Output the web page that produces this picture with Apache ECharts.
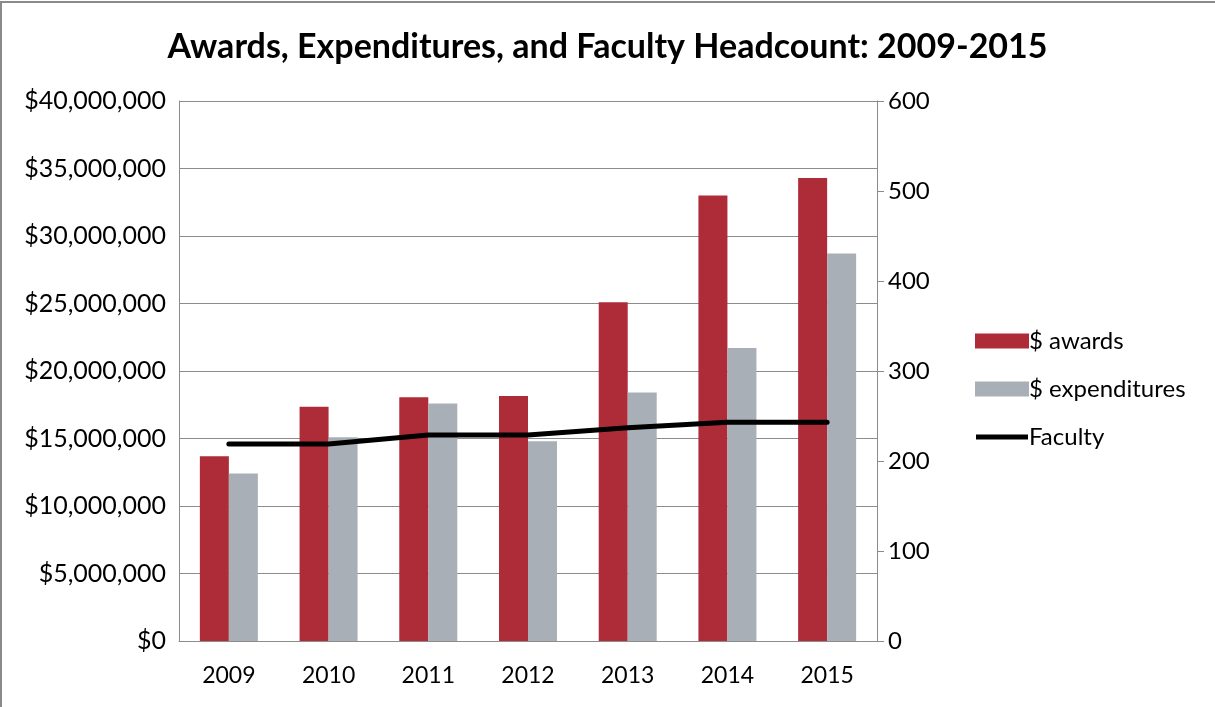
<!DOCTYPE html>
<html>
<head>
<meta charset="utf-8">
<script src="https://cdn.jsdelivr.net/npm/echarts@6/dist/echarts.min.js"></script>
<style>
  html, body { margin: 0; padding: 0; background: #fff; }
  #chart {
    position: absolute;
    left: 0; top: 0;
    width: 1215px; height: 707px;
  }
  #frame {
    position: absolute;
    left: 0; top: 1px;
    width: 1215px; height: 706px;
    box-sizing: border-box;
    border-top: 2px solid #8a8a8a;
    border-left: 2px solid #8a8a8a;
    pointer-events: none;
  }
</style>
</head>
<body>
<div id="chart"></div>
<div id="frame"></div>
<script>
  // values
  let years = ['2009', '2010', '2011', '2012', '2013', '2014', '2015'];
  let awards = [13680000, 17360000, 18050000, 18150000, 25100000, 33000000, 34300000];
  let expenditures = [12400000, 15090000, 17600000, 14800000, 18400000, 21700000, 28700000];
  let faculty = [219, 219, 229, 229, 237, 243, 243];

  let chart = echarts.init(document.getElementById('chart'));
  let font = 'Lato, "Open Sans", sans-serif';

  // thin bar centred in a 15px box, so the legend icon looks like a line
  let lineIcon = 'path://M0,0 L0.01,0 M0,5 L52,5 L52,10 L0,10 Z M0,15 L0.01,15';

  let option = {
    animation: false,
    title: {
      text: 'Awards, Expenditures, and Faculty Headcount: 2009-2015',
      left: 'center',
      top: 25,
      textStyle: {
        color: '#000',
        fontFamily: font,
        fontSize: 34,
        fontWeight: 'bold'
      }
    },
    legend: {
      orient: 'vertical',
      left: 970,
      top: 324,
      itemWidth: 54,
      itemHeight: 15,
      itemGap: 24,
      textStyle: { color: '#000', fontFamily: font, fontSize: 24, padding: [0, 0, 0, -5] },
      data: [
        { name: '$ awards', icon: 'rect' },
        { name: '$ expenditures', icon: 'rect' },
        { name: 'Faculty', icon: lineIcon }
      ]
    },
    grid: {
      left: 179,
      right: 338,
      top: 101,
      bottom: 66
    },
    xAxis: {
      type: 'category',
      data: years,
      axisTick: { show: false },
      axisLine: { lineStyle: { color: '#8c8c8c', width: 1 } },
      axisLabel: { color: '#000', fontFamily: font, fontSize: 23, margin: 23 }
    },
    yAxis: [{
      type: 'value',
      min: 0,
      max: 40000000,
      interval: 5000000,
      axisLine: { show: true, lineStyle: { color: '#8c8c8c', width: 1 } },
      axisTick: { show: false },
      splitLine: { lineStyle: { color: '#8c8c8c', width: 1 } },
      axisLabel: {
        color: '#000', fontFamily: font, fontSize: 25, margin: 13,
        formatter: v => '$' + v.toLocaleString('en-US')
      }
    }, {
      type: 'value',
      min: 0,
      max: 600,
      interval: 100,
      position: 'right',
      axisLine: { show: true, lineStyle: { color: '#8c8c8c', width: 1 } },
      axisTick: { show: true, length: 7, lineStyle: { color: '#8c8c8c' } },
      splitLine: { show: false },
      axisLabel: { color: '#000', fontFamily: font, fontSize: 24, margin: 11 }
    }],
    series: [{
      name: '$ awards',
      type: 'bar',
      data: awards,
      barWidth: 29,
      barGap: '0%',
      itemStyle: { color: '#ae2b38' }
    }, {
      name: '$ expenditures',
      type: 'bar',
      data: expenditures,
      barWidth: 29,
      itemStyle: { color: '#a9afb7' }
    }, {
      name: 'Faculty',
      type: 'line',
      yAxisIndex: 1,
      data: faculty,
      symbol: 'none',
      lineStyle: { color: '#000', width: 5, cap: 'round' },
      itemStyle: { color: '#000' }
    }]
  };

  chart.setOption(option);
</script>
</body>
</html>
